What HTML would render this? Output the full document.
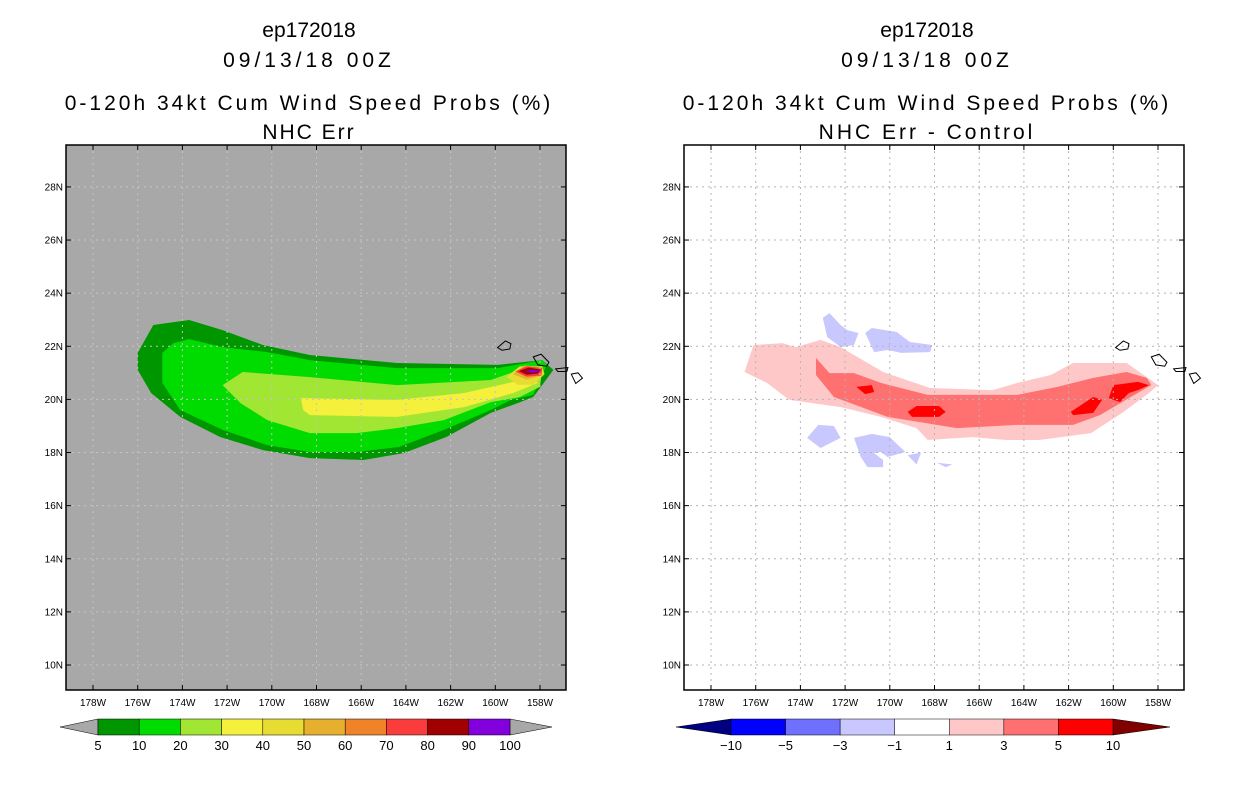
<!DOCTYPE html>
<html><head><meta charset="utf-8"><style>
body{margin:0;background:#fff;width:1236px;height:800px;overflow:hidden}
svg{display:block}
text{font-family:"Liberation Sans",sans-serif}
</style></head><body>
<svg id="s" width="1236" height="800">
<g font-size="21" text-anchor="middle" fill="#000">
<text x="309" y="37">ep172018</text>
<text x="309" y="67" letter-spacing="4">09/13/18 00Z</text>
<text x="309" y="110" letter-spacing="3">0-120h 34kt Cum Wind Speed Probs (%)</text>
<text x="309" y="139" letter-spacing="2">NHC Err</text>
</g>
<g font-size="21" text-anchor="middle" fill="#000">
<text x="927" y="37">ep172018</text>
<text x="927" y="67" letter-spacing="4">09/13/18 00Z</text>
<text x="927" y="110" letter-spacing="3">0-120h 34kt Cum Wind Speed Probs (%)</text>
<text x="927" y="139" letter-spacing="3">NHC Err - Control</text>
</g>
</svg>
<script>
const latTicks=[10,12,14,16,18,20,22,24,26,28];
const lonTicks=[178,176,174,172,170,168,166,164,162,160,158];
const p5=[[176.0,21.75],[175.3,22.8],[173.7,22.99],[172.2,22.61],[170.4,22.05],[168.3,21.67],[164.4,21.37],[159.9,21.3],[157.9,21.48],[157.4,21.11],[158.3,20.09],[159.0,19.86],[160.2,19.49],[162.2,18.58],[164.1,17.98],[165.9,17.72],[168.3,17.79],[170.4,18.09],[172.3,18.58],[174.1,19.34],[175.4,20.24],[176.0,21.11]];
const p10=[[174.9,21.75],[174.4,22.12],[173.7,22.27],[172.2,21.97],[170.2,21.78],[168.3,21.48],[164.4,21.18],[159.9,21.18],[157.9,21.48],[157.7,21.3],[158.3,20.17],[159.3,19.98],[160.2,19.6],[162.3,18.85],[164.3,18.21],[166.2,18.02],[168.3,18.02],[170.2,18.28],[172.2,18.85],[174.1,19.6],[174.9,20.62]];
const p20=[[172.2,20.54],[171.3,21.03],[168.3,20.84],[164.4,20.54],[160.2,20.73],[158.9,21.11],[157.9,21.18],[158.0,20.47],[158.9,20.09],[160.2,19.9],[162.3,19.22],[164.4,18.92],[166.2,18.73],[168.3,18.73],[170.2,19.22],[171.4,19.86]];
const p30=[[168.7,20.05],[164.4,19.98],[161.4,20.24],[159.2,20.66],[158.4,20.84],[158.1,20.62],[159.2,20.24],[161.4,19.71],[164.4,19.34],[168.3,19.41],[168.6,19.6]];
const p40=[[159.5,20.85],[158.9,21.25],[157.9,21.25],[157.8,20.95],[158.3,20.55],[159.0,20.55]];
const p50=[[159.2,20.95],[158.7,21.28],[157.9,21.22],[157.9,20.9],[158.6,20.75]];
const p70=[[159.1,21.05],[158.6,21.25],[157.9,21.18],[157.95,20.9],[158.6,20.85]];
const p80=[[158.95,21.07],[158.5,21.2],[157.95,21.12],[158.1,20.97],[158.6,20.93]];
const p100=[[158.7,21.07],[158.3,21.12],[157.95,21.07],[158.3,21.0]];
const d1=[[176.5,21.03],[176.1,22.05],[174.8,22.12],[174.2,21.97],[173.1,22.24],[172.2,21.97],[170.3,21.03],[168.2,20.43],[165.4,20.35],[164.3,20.62],[162.8,20.92],[161.8,21.37],[159.4,21.37],[158.0,20.54],[158.4,20.24],[159.6,19.49],[161.0,18.73],[163.3,18.47],[164.8,18.47],[166.3,18.58],[168.3,18.47],[168.8,18.92],[170.4,19.34],[172.2,19.71],[174.5,19.98],[175.5,20.62]];
const d3=[[173.3,21.56],[172.7,20.99],[171.6,20.99],[170.4,20.62],[168.3,20.17],[164.3,20.17],[162.5,20.47],[160.9,20.81],[159.4,21.03],[158.5,20.81],[158.3,20.54],[159.3,20.05],[160.6,19.41],[161.8,19.04],[164.3,19.04],[167.0,18.92],[170.1,19.34],[172.5,20.09],[173.3,20.92]];
const d5a=[[171.5,20.47],[170.8,20.54],[170.7,20.28],[171.1,20.2]];
const d5b=[[169.2,19.53],[168.8,19.75],[167.8,19.75],[167.5,19.53],[167.8,19.34],[169.0,19.34]];
const d5c=[[161.9,19.53],[160.9,20.09],[160.5,19.98],[160.9,19.49],[161.8,19.41]];
const d5d=[[160.2,20.05],[160.0,20.54],[158.9,20.66],[158.4,20.54],[158.9,20.35],[159.3,20.24],[159.7,19.9]];
const n1=[[173.0,23.07],[172.7,23.25],[172.2,22.8],[171.9,22.61],[171.4,22.5],[171.6,22.05],[172.2,21.97],[172.8,22.35]];
const n2=[[171.1,22.5],[170.8,22.69],[169.7,22.54],[169.1,22.16],[168.1,22.05],[168.2,21.78],[169.5,21.75],[170.1,21.86],[170.7,21.78]];
const n3=[[173.7,18.55],[173.2,19.04],[172.5,19.0],[172.2,18.55],[173.1,18.17]];
const n4=[[171.6,18.55],[170.8,18.7],[170.0,18.58],[169.3,18.02],[170.1,17.83],[170.4,18.02],[170.7,17.98],[170.3,17.72],[170.3,17.45],[171.0,17.45],[171.3,17.83]];
const n5=[[169.2,17.9],[168.6,18.0],[168.8,17.55]];
const n6=[[167.9,17.62],[167.2,17.55],[167.5,17.45]];
const leftLevels=["5","10","20","30","40","50","60","70","80","90","100"];
const leftColors=["#009600","#00dc00","#a0e632","#f5f03c","#e6dc32","#e6af2d","#f08228","#fa3c3c","#a00000","#8200dc"];
const rightLevels=["-10","-5","-3","-1","1","3","5","10"];
const rightColors=["#0000ff","#7070ff","#c8c8ff","#ffffff","#ffc8c8","#ff7070","#ff0000"];

const NS="http://www.w3.org/2000/svg",svg=document.getElementById('s');
function el(t,a,p){const e=document.createElementNS(NS,t);for(const k in a)e.setAttribute(k,a[k]);(p||svg).appendChild(e);return e;}
const Y0=145,Y1=690;
function yS(lat){return 665-(lat-10)*26.56;}
function panel(off,bg,name){
  const x=lon=>off+27+(178-lon)*22.35;
  const g=el('g',{});
  
  
  const r=el('rect',{x:off,y:Y0,width:500,height:545,fill:bg},g);
  
  
  const cg=el('g',{},g);
  const gg=el('g',{},g);
  return {x,g,cg,gg};
}
function poly(P,pts,fill,name){
  const e=el('polygon',{points:pts.map(p=>P.x(p[0]).toFixed(1)+','+yS(p[1]).toFixed(1)).join(' '),fill:fill},P.cg);
  
  
}
function grid(P,off,col){
  latTicks.forEach(t=>{const y=yS(t);
    el('line',{x1:off,x2:off+500,y1:y,y2:y,stroke:col,'stroke-dasharray':'2,4'},P.gg);
    el('line',{x1:off,x2:off+5,y1:y,y2:y,stroke:'#000'},P.gg);
    el('line',{x1:off+495,x2:off+500,y1:y,y2:y,stroke:'#000'},P.gg);
    const tx=el('text',{x:off-3,y:y+3.5,'font-size':10,'text-anchor':'end'},P.gg);tx.textContent=t+'N';
    
    
  });
  lonTicks.forEach(t=>{const x=P.x(t);
    el('line',{x1:x,x2:x,y1:Y0,y2:Y1,stroke:col,'stroke-dasharray':'2,4'},P.gg);
    el('line',{x1:x,x2:x,y1:Y1-5,y2:Y1,stroke:'#000'},P.gg);
    el('line',{x1:x,x2:x,y1:Y0,y2:Y0+5,stroke:'#000'},P.gg);
    const tx=el('text',{x:x,y:706,'font-size':10,'text-anchor':'middle'},P.gg);tx.textContent=t+'W';
    
    
  });
  const f=el('rect',{x:off,y:Y0,width:500,height:545,fill:'none',stroke:'#000','stroke-width':1.5},P.gg);
  
  
}
function islands(P){
  const isl=[[[159.9,21.95],[159.55,22.2],[159.3,22.1],[159.35,21.9],[159.7,21.85]],[[158.3,21.6],[157.95,21.7],[157.6,21.4],[157.7,21.25],[158.1,21.3]],[[157.3,21.15],[156.75,21.2],[156.8,21.05],[157.2,21.05]],[[156.6,20.95],[156.3,21.0],[156.1,20.8],[156.4,20.6]]];
  isl.forEach(s=>{const e=el('polygon',{points:s.map(p=>P.x(p[0])+','+yS(p[1])).join(' '),fill:'none',stroke:'#000','stroke-width':1},P.gg);
    
    });
}
const L=panel(66,'#a8a8a8','left-map');
[[p5,'#009600','contour-5'],[p10,'#00dc00','contour-10'],[p20,'#a0e632','contour-20'],[p30,'#f5f03c','contour-30'],[p40,'#e6dc32','contour-40'],[p50,'#e6af2d','contour-50'],[p70,'#fa3c3c','contour-70'],[p80,'#a00000','contour-80'],[p100,'#8200dc','contour-100']].forEach(a=>poly(L,a[0],a[1],a[2]));
grid(L,66,'#c4c4c4');islands(L);
const R=panel(684,'#ffffff','right-map');
[[d1,'#ffc8c8','diff-1-3'],[d3,'#ff7070','diff-3-5'],[d5a,'#ff0000','diff-5-10'],[d5b,'#ff0000','diff-5-10'],[d5c,'#ff0000','diff-5-10'],[d5d,'#ff0000','diff-5-10'],[n1,'#c8c8ff','diff-neg'],[n2,'#c8c8ff','diff-neg'],[n3,'#c8c8ff','diff-neg'],[n4,'#c8c8ff','diff-neg'],[n5,'#c8c8ff','diff-neg'],[n6,'#c8c8ff','diff-neg']].forEach(a=>poly(R,a[0],a[1],a[2]));
grid(R,684,'#b4b4b4');islands(R);
function colorbar(x0,x1,lt,rt,levels,colors,lc,rc,name){
  const g=el('g',{});
  
  
  const w=(x1-x0)/colors.length,yT=719,yB=735,yM=727;
  el('polygon',{points:`${lt},${yM} ${x0},${yT} ${x0},${yB}`,fill:lc,stroke:'#000','stroke-width':0.5},g);
  el('polygon',{points:`${rt},${yM} ${x1},${yT} ${x1},${yB}`,fill:rc,stroke:'#000','stroke-width':0.5},g);
  colors.forEach((c,i)=>{const r=el('rect',{x:x0+i*w,y:yT,width:w,height:yB-yT,fill:c,stroke:'#000','stroke-width':0.5},g);
    
    });
  levels.forEach((l,i)=>{const t=el('text',{x:x0+i*w,y:750,'font-size':13,'text-anchor':'middle'},g);t.textContent=l.replace('-','\u2212');
    
    });
}
colorbar(98,510,60,552,leftLevels,leftColors,'#a8a8a8','#a8a8a8','left-colorbar');
colorbar(731,1113,676,1170,rightLevels,rightColors,'#000080','#800000','right-colorbar');
</script>
</body></html>
